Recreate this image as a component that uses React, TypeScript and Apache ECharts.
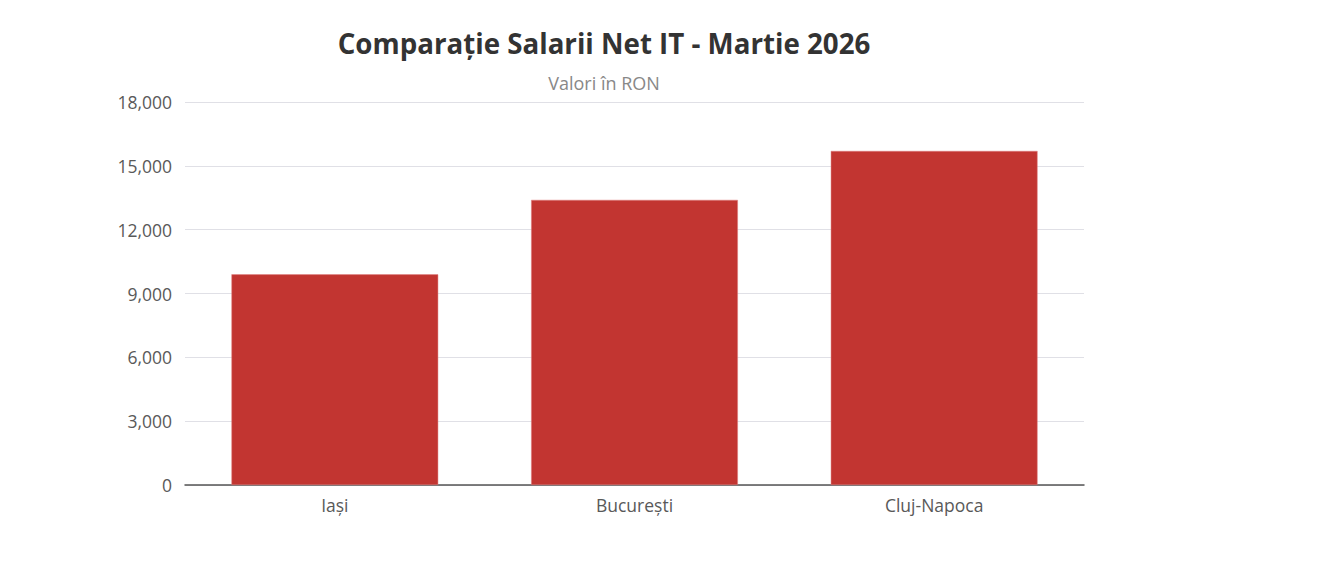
import React, { useEffect, useRef } from "react";
import * as echarts from "echarts";

const titleText = "Comparație Salarii Net IT - Martie 2026";
const subtitleText = "Valori în RON";
const categories = ["Iași", "București", "Cluj-Napoca"];
const salaries = [9900, 13400, 15700];
const yTicks = [0, 3000, 6000, 9000, 12000, 15000, 18000];

const FONT = "'Open Sans', 'Noto Sans', sans-serif";

export default function App() {
  const ref = useRef<HTMLDivElement>(null);
  useEffect(() => {
    if (!ref.current) return;
    const chart = echarts.init(ref.current, undefined, { renderer: "svg" });
    chart.setOption({
      animation: false,
      backgroundColor: "#ffffff",
      title: {
        text: titleText,
        subtext: subtitleText,
        left: 591,
        top: 16,
        textAlign: "center",
        itemGap: 17,
        textStyle: { fontFamily: FONT, fontSize: 27.7, fontWeight: "bold", color: "#333" },
        subtextStyle: { fontFamily: FONT, fontSize: 18, color: "#888" },
      },
      grid: { left: 177, top: 94, width: 899, height: 383, containLabel: false },
      xAxis: {
        type: "category",
        data: categories,
        axisTick: { show: false },
        axisLine: { lineStyle: { color: "#555", width: 1.5 } },
        axisLabel: { fontFamily: FONT, fontSize: 17.5, color: "#595959", margin: 11 },
      },
      yAxis: {
        type: "value",
        min: yTicks[0],
        max: yTicks[yTicks.length - 1],
        interval: 3000,
        axisLine: { show: false },
        axisTick: { show: false },
        splitLine: { lineStyle: { color: "#e0e0e6" } },
        axisLabel: {
          fontFamily: FONT,
          fontSize: 17.5,
          color: "#595959",
          margin: 13,
          formatter: (v: number) => v.toLocaleString("en-US"),
        },
      },
      series: [
        {
          type: "bar",
          data: salaries,
          barCategoryGap: "31%",
          itemStyle: { color: "#c23531", borderColor: "#e08080", borderWidth: 0.5 },
        },
      ],
    });
    return () => chart.dispose();
  }, []);
  return <div ref={ref} style={{ width: 1310, height: 571 }} />;
}
